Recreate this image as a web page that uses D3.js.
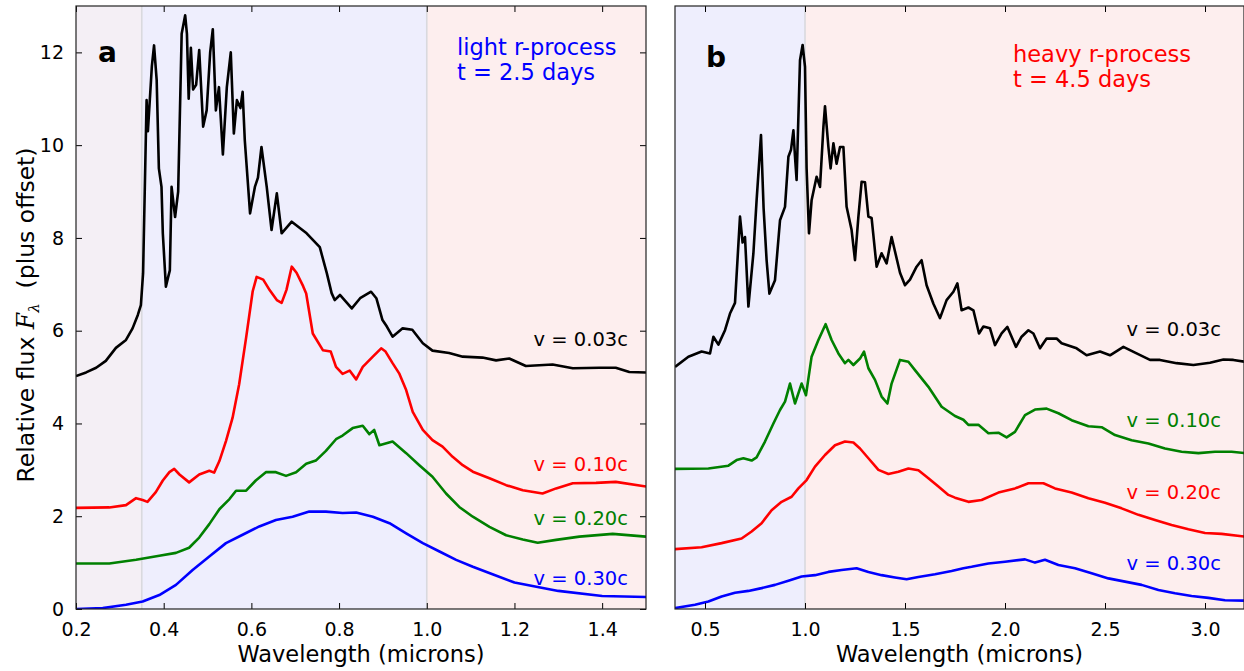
<!DOCTYPE html>
<html>
<head>
<meta charset="utf-8">
<script src="https://cdn.jsdelivr.net/npm/d3@7.9.0/dist/d3.min.js"></script>
<style>
  html, body { margin: 0; padding: 0; background: #fff; }
  svg { display: block; font-family: "DejaVu Sans", sans-serif; }
</style>
</head>
<body>
<svg id="chart" width="1244" height="671"></svg>
<script>
// panel a: light r-process, t = 2.5 days  [wavelength (microns), flux + offset]
const a003 = [[0.200,5.02],[0.223,5.10],[0.246,5.20],[0.268,5.35],[0.291,5.63],[0.314,5.80],[0.329,6.05],[0.341,6.34],[0.348,6.55],[0.353,7.24],[0.361,10.97],[0.364,10.30],[0.373,11.70],[0.378,12.15],[0.384,11.40],[0.389,9.50],[0.395,9.10],[0.398,8.10],[0.405,6.95],[0.410,7.15],[0.414,7.30],[0.418,9.10],[0.426,8.45],[0.433,9.00],[0.441,12.40],[0.449,12.80],[0.453,12.40],[0.457,11.00],[0.462,12.10],[0.467,11.20],[0.474,11.30],[0.481,12.05],[0.490,10.40],[0.498,10.75],[0.506,12.00],[0.512,12.50],[0.519,10.75],[0.526,11.25],[0.535,9.80],[0.544,11.25],[0.553,12.00],[0.560,10.25],[0.567,10.97],[0.575,10.80],[0.580,11.15],[0.585,10.10],[0.597,8.53],[0.608,9.10],[0.615,9.30],[0.623,9.96],[0.635,9.10],[0.646,8.17],[0.658,8.96],[0.669,8.10],[0.692,8.35],[0.726,8.10],[0.756,7.80],[0.772,7.24],[0.783,6.81],[0.790,6.66],[0.802,6.77],[0.829,6.48],[0.848,6.70],[0.873,6.84],[0.885,6.70],[0.899,6.23],[0.909,6.09],[0.922,5.87],[0.945,6.05],[0.967,6.02],[0.991,5.73],[1.013,5.57],[1.051,5.52],[1.082,5.44],[1.127,5.42],[1.158,5.36],[1.188,5.40],[1.226,5.24],[1.287,5.27],[1.333,5.19],[1.394,5.20],[1.431,5.20],[1.462,5.11],[1.500,5.10]];
const a010 = [[0.200,2.18],[0.276,2.19],[0.314,2.24],[0.337,2.39],[0.352,2.35],[0.363,2.31],[0.382,2.52],[0.398,2.77],[0.413,2.95],[0.424,3.02],[0.436,2.90],[0.458,2.73],[0.481,2.90],[0.504,2.98],[0.515,2.94],[0.527,3.19],[0.542,3.62],[0.557,4.12],[0.572,4.84],[0.588,5.85],[0.603,6.85],[0.612,7.16],[0.627,7.10],[0.642,6.87],[0.658,6.66],[0.669,6.60],[0.680,6.88],[0.692,7.38],[0.703,7.25],[0.718,6.96],[0.725,6.80],[0.740,5.94],[0.763,5.58],[0.781,5.55],[0.793,5.22],[0.808,5.07],[0.824,5.14],[0.839,4.95],[0.854,5.22],[0.877,5.44],[0.896,5.62],[0.906,5.55],[0.922,5.30],[0.937,5.08],[0.953,4.72],[0.968,4.25],[0.991,3.86],[1.013,3.64],[1.036,3.50],[1.059,3.28],[1.082,3.10],[1.105,2.96],[1.143,2.82],[1.181,2.67],[1.219,2.56],[1.264,2.49],[1.295,2.60],[1.333,2.71],[1.386,2.72],[1.431,2.74],[1.500,2.64]];
const a020 = [[0.200,0.98],[0.276,0.98],[0.337,1.06],[0.390,1.15],[0.428,1.21],[0.458,1.32],[0.481,1.54],[0.504,1.83],[0.527,2.15],[0.550,2.37],[0.565,2.55],[0.588,2.55],[0.610,2.77],[0.633,2.95],[0.656,2.95],[0.679,2.87],[0.702,2.95],[0.725,3.13],[0.747,3.20],[0.770,3.41],[0.793,3.66],[0.808,3.74],[0.831,3.90],[0.854,3.95],[0.869,3.77],[0.880,3.86],[0.892,3.53],[0.922,3.61],[0.953,3.36],[0.983,3.10],[1.013,2.85],[1.044,2.49],[1.074,2.20],[1.105,1.99],[1.143,1.77],[1.181,1.59],[1.219,1.50],[1.253,1.43],[1.295,1.49],[1.348,1.56],[1.424,1.62],[1.500,1.56]];
const a030 = [[0.200,0.00],[0.261,0.02],[0.314,0.09],[0.352,0.16],[0.390,0.30],[0.428,0.52],[0.466,0.84],[0.504,1.13],[0.542,1.42],[0.580,1.60],[0.618,1.78],[0.656,1.92],[0.694,1.99],[0.732,2.10],[0.770,2.10],[0.808,2.07],[0.839,2.08],[0.877,1.99],[0.915,1.85],[0.953,1.63],[0.991,1.42],[1.029,1.24],[1.067,1.06],[1.105,0.91],[1.150,0.75],[1.200,0.57],[1.300,0.39],[1.400,0.28],[1.500,0.26]];

// panel b: heavy r-process, t = 4.5 days
const b003 = [[0.350,5.22],[0.417,5.44],[0.483,5.55],[0.525,5.51],[0.542,5.87],[0.567,5.70],[0.600,6.01],[0.625,6.37],[0.650,6.60],[0.675,8.46],[0.688,7.90],[0.700,8.02],[0.717,6.52],[0.742,7.67],[0.758,8.81],[0.780,10.22],[0.793,8.64],[0.808,7.52],[0.822,6.80],[0.850,7.09],[0.875,8.38],[0.900,8.67],[0.917,9.75],[0.930,9.90],[0.942,10.32],[0.950,9.75],[0.958,9.25],[0.975,11.83],[0.988,12.16],[1.000,11.69],[1.008,9.50],[1.020,8.10],[1.033,8.81],[1.058,9.32],[1.075,9.10],[1.092,10.39],[1.100,10.84],[1.117,9.96],[1.128,9.50],[1.142,10.04],[1.158,9.60],[1.175,9.96],[1.192,9.96],[1.208,8.67],[1.233,8.17],[1.250,7.52],[1.267,8.46],[1.283,9.21],[1.300,9.20],[1.317,8.46],[1.333,8.43],[1.358,7.38],[1.383,7.67],[1.408,7.45],[1.433,8.02],[1.475,7.25],[1.500,6.98],[1.525,7.10],[1.558,7.38],[1.583,7.52],[1.608,6.98],[1.642,6.58],[1.675,6.27],[1.708,6.66],[1.742,6.84],[1.762,7.02],[1.783,6.44],[1.817,6.50],[1.842,6.44],[1.870,5.94],[1.892,6.09],[1.925,6.05],[1.950,5.69],[1.983,5.94],[2.012,6.08],[2.055,5.65],[2.083,5.87],[2.117,6.01],[2.142,5.94],[2.175,5.62],[2.208,5.83],[2.258,5.83],[2.283,5.73],[2.358,5.62],[2.408,5.47],[2.475,5.55],[2.525,5.47],[2.592,5.65],[2.658,5.51],[2.725,5.37],[2.775,5.37],[2.858,5.30],[2.942,5.26],[3.025,5.31],[3.092,5.38],[3.142,5.37],[3.200,5.33]];
const b010 = [[0.350,3.02],[0.517,3.03],[0.617,3.09],[0.658,3.21],[0.692,3.25],[0.733,3.20],[0.758,3.27],[0.800,3.61],[0.842,4.00],[0.875,4.29],[0.900,4.47],[0.925,4.86],[0.950,4.43],[0.983,4.86],[1.005,4.61],[1.033,5.44],[1.067,5.80],[1.103,6.14],[1.133,5.80],[1.167,5.51],[1.200,5.30],[1.217,5.37],[1.242,5.26],[1.275,5.40],[1.295,5.55],[1.317,5.19],[1.350,4.94],[1.383,4.58],[1.412,4.43],[1.433,4.86],[1.475,5.37],[1.517,5.33],[1.550,5.15],[1.617,4.79],[1.683,4.36],[1.750,4.16],[1.792,4.08],[1.817,3.97],[1.867,3.97],[1.917,3.79],[1.967,3.80],[2.008,3.70],[2.050,3.82],[2.100,4.18],[2.150,4.30],[2.208,4.32],[2.267,4.22],[2.333,4.07],[2.417,3.94],[2.483,3.92],[2.550,3.75],[2.633,3.64],[2.717,3.57],[2.800,3.46],[2.883,3.39],[2.967,3.36],[3.050,3.39],[3.133,3.39],[3.200,3.36]];
const b020 = [[0.350,1.29],[0.483,1.33],[0.583,1.42],[0.683,1.52],[0.733,1.67],[0.783,1.85],[0.833,2.13],[0.883,2.31],[0.933,2.42],[0.967,2.60],[1.008,2.78],[1.050,3.07],[1.100,3.32],[1.150,3.53],[1.200,3.61],[1.242,3.59],[1.275,3.46],[1.317,3.25],[1.367,3.00],[1.417,2.91],[1.467,2.96],[1.517,3.03],[1.567,2.99],[1.617,2.82],[1.667,2.64],[1.717,2.46],[1.750,2.40],[1.817,2.31],[1.883,2.35],[1.967,2.51],[2.050,2.60],[2.117,2.71],[2.192,2.71],[2.250,2.60],[2.333,2.51],[2.417,2.39],[2.500,2.29],[2.583,2.17],[2.667,2.03],[2.750,1.92],[2.833,1.81],[2.917,1.72],[3.000,1.64],[3.083,1.62],[3.200,1.56]];
const b030 = [[0.350,0.02],[0.450,0.09],[0.517,0.16],[0.583,0.27],[0.650,0.35],[0.717,0.39],[0.783,0.45],[0.850,0.52],[0.917,0.61],[0.983,0.70],[1.050,0.73],[1.117,0.80],[1.183,0.84],[1.258,0.88],[1.317,0.80],[1.383,0.73],[1.450,0.68],[1.508,0.64],[1.567,0.69],[1.650,0.75],[1.733,0.82],[1.792,0.88],[1.833,0.91],[1.917,0.98],[2.000,1.02],[2.100,1.07],[2.150,1.00],[2.200,1.06],[2.267,0.95],[2.350,0.88],[2.433,0.77],[2.517,0.66],[2.600,0.59],[2.683,0.52],[2.767,0.41],[2.850,0.34],[2.933,0.28],[3.017,0.24],[3.100,0.19],[3.200,0.18]];

const xTicksA = [0.2, 0.4, 0.6, 0.8, 1.0, 1.2, 1.4];
const xTicksB = [0.5, 1.0, 1.5, 2.0, 2.5, 3.0];
const yTicks = [0, 2, 4, 6, 8, 10, 12];
const velLabels = ['v = 0.03c', 'v = 0.10c', 'v = 0.20c', 'v = 0.30c'];

const svg = d3.select('#chart');
const plotTop = 6, plotBottom = 609;
const y = d3.scaleLinear().domain([0, 13]).range([plotBottom, plotTop]);

const panels = [
  {
    id: 'a', left: 76, right: 646, domain: [0.2, 1.5], ticks: xTicksA,
    spans: [[0.2, 0.35, '#f4eff5'], [0.35, 1.0, '#eeeefd'], [1.0, 1.5, '#fdeeee']],
    vlines: [0.35, 1.0],
    series: [[a003, '#000000', 346], [a010, '#ff0000', 471], [a020, '#008000', 525], [a030, '#0000ff', 585]],
    labelRight: 628,
    note: ['light r-process', 't = 2.5 days'], noteColor: '#0000ff', noteX: 457, noteY: 55,
    letterX: 98, letterY: 62, yAxis: true
  },
  {
    id: 'b', left: 675, right: 1244, domain: [0.35, 3.195], ticks: xTicksB,
    spans: [[0.35, 1.0, '#eeeefd'], [1.0, 3.2, '#fdeeee']],
    vlines: [1.0],
    series: [[b003, '#000000', 336], [b010, '#008000', 427], [b020, '#ff0000', 499], [b030, '#0000ff', 570]],
    labelRight: 1221,
    note: ['heavy r-process', 't = 4.5 days'], noteColor: '#ff0000', noteX: 1013, noteY: 62,
    letterX: 706, letterY: 67, yAxis: false
  }
];

panels.forEach((p) => {
  const x = d3.scaleLinear().domain(p.domain).range([p.left, p.right]);
  const g = svg.append('g');

  g.append('clipPath').attr('id', 'clip-' + p.id)
    .append('rect').attr('x', p.left).attr('y', plotTop)
    .attr('width', p.right - p.left).attr('height', plotBottom - plotTop);

  const body = g.append('g').attr('clip-path', `url(#clip-${p.id})`);

  p.spans.forEach(([x0, x1, c]) => {
    body.append('rect')
      .attr('x', x(x0)).attr('y', plotTop)
      .attr('width', x(x1) - x(x0)).attr('height', plotBottom - plotTop)
      .attr('fill', c);
  });
  p.vlines.forEach((v) => {
    body.append('line')
      .attr('x1', x(v)).attr('x2', x(v)).attr('y1', plotTop).attr('y2', plotBottom)
      .attr('stroke', '#d9d9de').attr('stroke-width', 1.6);
  });

  const line = d3.line().x((d) => x(d[0])).y((d) => y(d[1]));
  p.series.forEach(([data, color]) => {
    body.append('path')
      .datum(data)
      .attr('d', line)
      .attr('fill', 'none')
      .attr('stroke', color)
      .attr('stroke-width', 2.6)
      .attr('stroke-linejoin', 'round');
  });

  // axes: inward ticks on all sides
  const xb = d3.axisBottom(x).tickValues(p.ticks).tickFormat(d3.format('.1f')).tickSizeInner(-6).tickSizeOuter(0).tickPadding(14);
  const xt = d3.axisTop(x).tickValues(p.ticks).tickFormat('').tickSizeInner(-6).tickSizeOuter(0);
  const gb = g.append('g').attr('transform', `translate(0,${plotBottom})`).call(xb);
  const gt = g.append('g').attr('transform', `translate(0,${plotTop})`).call(xt);
  [gb, gt].forEach((ax) => {
    ax.select('.domain').remove();
    ax.selectAll('.tick line').attr('stroke', '#000').attr('stroke-width', 1);
  });
  gb.selectAll('.tick text').attr('font-size', 19).attr('font-family', 'DejaVu Sans').attr('fill', '#000');

  if (p.yAxis) {
    const yl = d3.axisLeft(y).tickValues(yTicks).tickFormat(d3.format('d')).tickSizeInner(-6).tickSizeOuter(0).tickPadding(12);
    const yr = d3.axisRight(y).tickValues(yTicks).tickFormat('').tickSizeInner(-6).tickSizeOuter(0);
    const gl = g.append('g').attr('transform', `translate(${p.left},0)`).call(yl);
    const gr = g.append('g').attr('transform', `translate(${p.right},0)`).call(yr);
    [gl, gr].forEach((ax) => {
      ax.select('.domain').remove();
      ax.selectAll('.tick line').attr('stroke', '#000').attr('stroke-width', 1);
    });
    gl.selectAll('.tick text').attr('font-size', 19).attr('font-family', 'DejaVu Sans').attr('fill', '#000');
  }

  g.append('rect')
    .attr('x', p.left).attr('y', plotTop)
    .attr('width', p.right - p.left).attr('height', plotBottom - plotTop)
    .attr('fill', 'none').attr('stroke', '#222').attr('stroke-width', 1.2);

  g.append('text')
    .attr('x', (p.left + p.right) / 2).attr('y', 662)
    .attr('text-anchor', 'middle').attr('font-size', 22.5)
    .text('Wavelength (microns)');

  g.append('text')
    .attr('x', p.letterX).attr('y', p.letterY)
    .attr('font-size', 28).attr('font-weight', 'bold')
    .text(p.id);

  p.note.forEach((t, i) => {
    g.append('text')
      .attr('x', p.noteX).attr('y', p.noteY + i * 25)
      .attr('font-size', 22.5).attr('fill', p.noteColor)
      .text(t);
  });

  p.series.forEach(([, color, ly], i) => {
    g.append('text')
      .attr('x', p.labelRight).attr('y', ly)
      .attr('text-anchor', 'end').attr('font-size', 19.5).attr('fill', color)
      .text(velLabels[i]);
  });
});

// y-axis label
const yLab = svg.append('text')
  .attr('transform', 'translate(34,315) rotate(-90)')
  .attr('text-anchor', 'middle')
  .attr('font-size', 23.5);
yLab.append('tspan').text('Relative flux ');
yLab.append('tspan').attr('font-family', 'DejaVu Serif').attr('font-style', 'italic').text('F');
yLab.append('tspan').attr('font-family', 'DejaVu Serif').attr('font-style', 'italic')
  .attr('font-size', 15).attr('dy', 5).text('λ');
yLab.append('tspan').attr('dy', -5).text('\u00a0\u00a0(plus offset)');
</script>
</body>
</html>
